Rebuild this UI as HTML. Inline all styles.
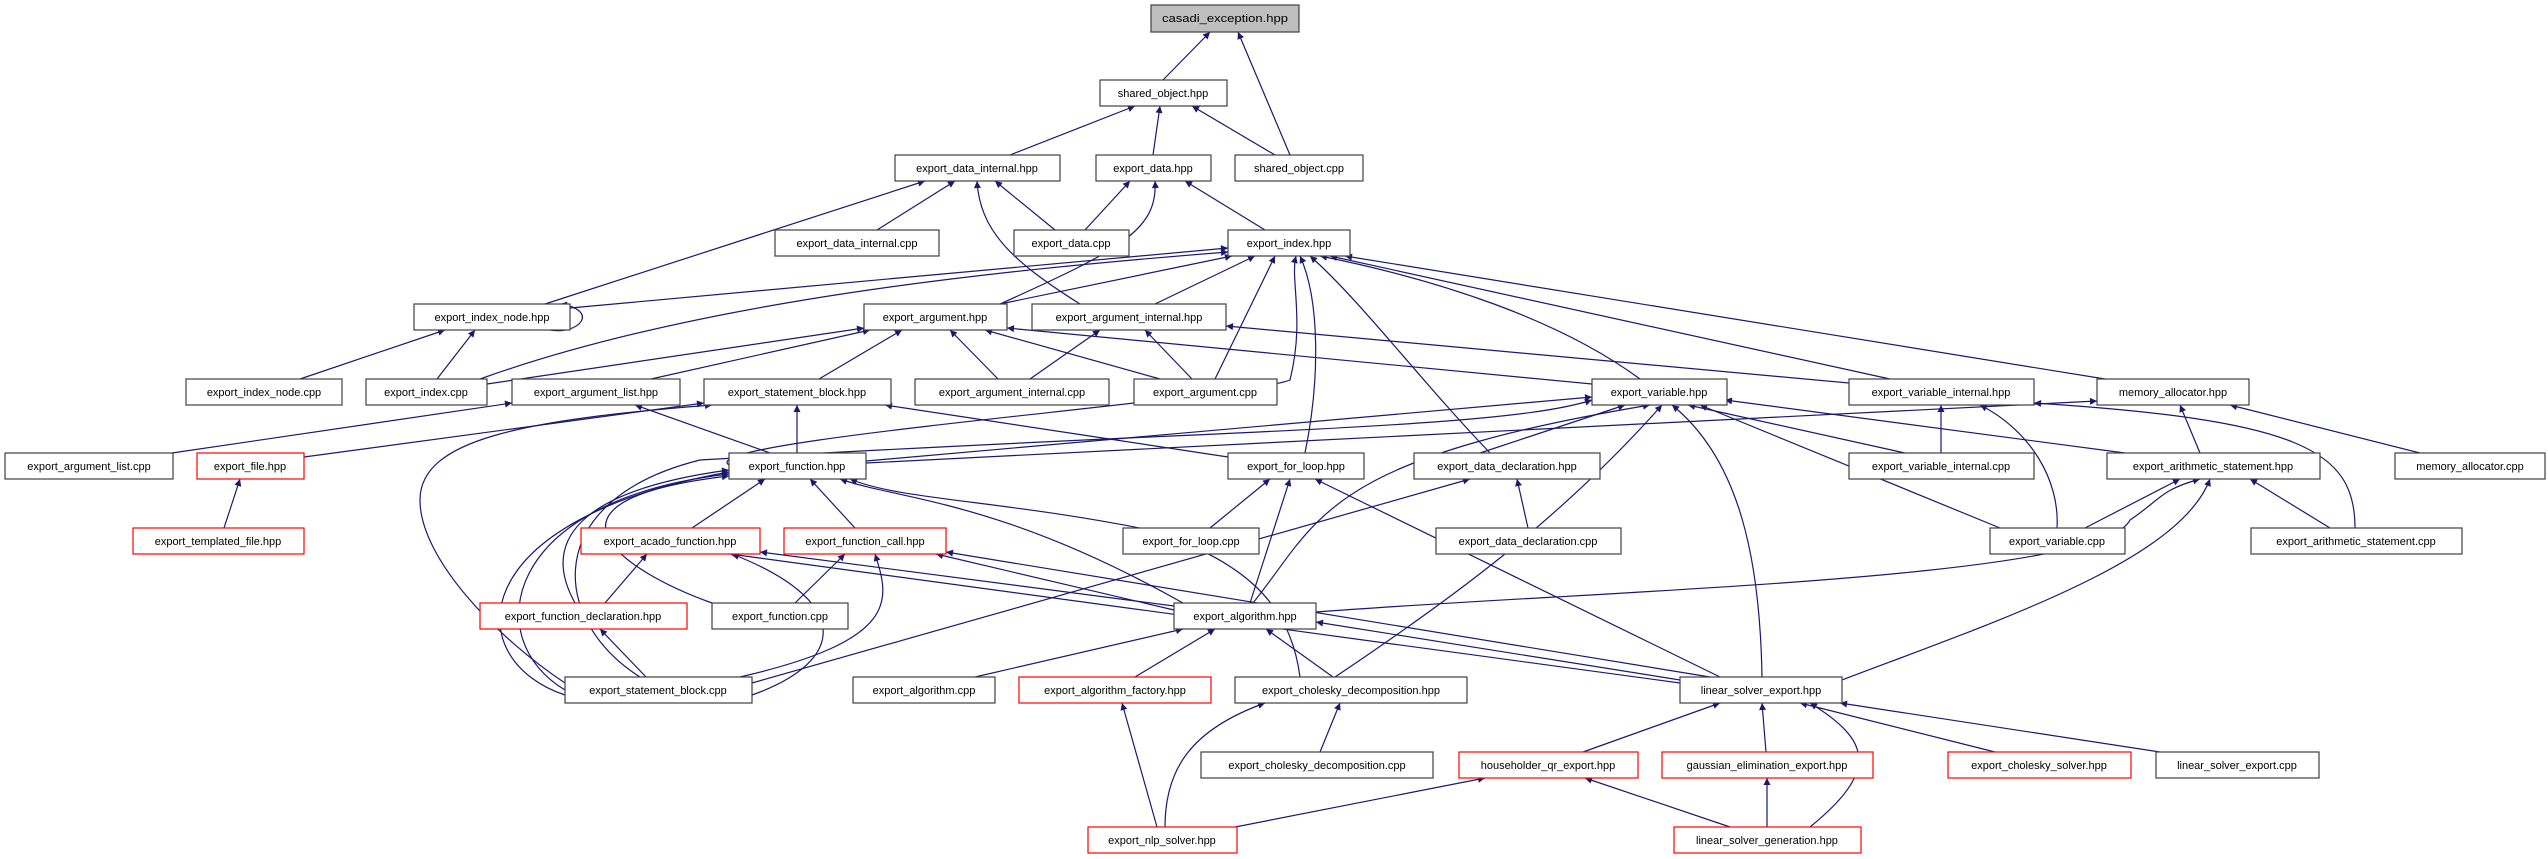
<!DOCTYPE html>
<html><head><meta charset="utf-8">
<style>
html,body{margin:0;padding:0;background:#fff;}
svg{display:block;}
text{font-family:"Liberation Sans",sans-serif;font-size:11px;fill:#000;}
.e{stroke:#191970;stroke-width:1.2;fill:none;marker-end:url(#ah);}
.n{fill:#fff;stroke:#404040;stroke-width:1.2;}
.r{fill:#fff;stroke:#ff0000;stroke-width:1.2;}
.g{fill:#bfbfbf;stroke:#404040;stroke-width:1.2;}
</style></head><body>
<svg width="2548" height="859" viewBox="0 0 2548 859" xmlns="http://www.w3.org/2000/svg">
<defs><marker id="ah" viewBox="0 0 10 10" refX="10" refY="5" markerWidth="9" markerHeight="7" markerUnits="userSpaceOnUse" orient="auto"><path d="M0,0 L10,5 L0,10 z" fill="#191970"/></marker></defs>
<g>
<!-- edges: child top -> parent bottom -->
<line class="e" x1="1163" y1="80" x2="1210" y2="32"/>
<line class="e" x1="1290" y1="155" x2="1238" y2="32"/>
<line class="e" x1="1010" y1="155" x2="1135" y2="106"/>
<line class="e" x1="1153" y1="155" x2="1160" y2="106"/>
<line class="e" x1="1275" y1="155" x2="1192" y2="106"/>
<line class="e" x1="545" y1="304" x2="925" y2="181"/>
<line class="e" x1="877" y1="230" x2="955" y2="181"/>
<line class="e" x1="1055" y1="230" x2="995" y2="181"/>
<path class="e" d="M1080,304 C1010,260 980,230 977,181"/>
<line class="e" x1="1085" y1="230" x2="1130" y2="181"/>
<line class="e" x1="1265" y1="230" x2="1185" y2="181"/>
<path class="e" d="M1000,304 C1120,250 1158,230 1155,181"/>
<line class="e" x1="570" y1="308" x2="1228" y2="248"/>
<path class="e" d="M480,379 C700,300 1000,270 1228,252"/>
<line class="e" x1="1000" y1="304" x2="1232" y2="256"/>
<line class="e" x1="1155" y1="304" x2="1255" y2="256"/>
<line class="e" x1="1215" y1="379" x2="1275" y2="256"/>
<path class="e" d="M729,465 C690,440 1240,400 1290,380 C1305,320 1290,280 1296,256"/>
<path class="e" d="M1305,453 C1320,380 1320,300 1300,256"/>
<path class="e" d="M1490,453 C1420,380 1360,300 1310,256"/>
<path class="e" d="M1640,379 C1560,320 1440,280 1320,256"/>
<line class="e" x1="1890" y1="379" x2="1330" y2="256"/>
<line class="e" x1="2105" y1="379" x2="1345" y2="256"/>
<path class="e" d="M550,330 C580,335 600,310 560,304"/>
<line class="e" x1="300" y1="379" x2="445" y2="330"/>
<line class="e" x1="437" y1="379" x2="475" y2="330"/>
<line class="e" x1="487" y1="384" x2="864" y2="328"/>
<line class="e" x1="651" y1="379" x2="870" y2="330"/>
<line class="e" x1="819" y1="379" x2="902" y2="330"/>
<line class="e" x1="998" y1="379" x2="950" y2="330"/>
<line class="e" x1="1160" y1="379" x2="985" y2="330"/>
<line class="e" x1="1592" y1="384" x2="1007" y2="328"/>
<line class="e" x1="1030" y1="379" x2="1100" y2="330"/>
<line class="e" x1="1192" y1="379" x2="1145" y2="330"/>
<line class="e" x1="1849" y1="383" x2="1226" y2="326"/>
<line class="e" x1="172" y1="453" x2="512" y2="403"/>
<line class="e" x1="770" y1="453" x2="635" y2="405"/>
<line class="e" x1="304" y1="457" x2="704" y2="403"/>
<path class="e" d="M565,683 C500,640 420,560 420,500 C420,440 520,420 712,405"/>
<line class="e" x1="797" y1="453" x2="797" y2="405"/>
<line class="e" x1="1228" y1="457" x2="885" y2="405"/>
<line class="e" x1="866" y1="461" x2="1592" y2="397"/>
<path class="e" d="M640,677 C550,620 540,500 700,460 C1200,430 1500,430 1592,400"/>
<line class="e" x1="1480" y1="453" x2="1625" y2="405"/>
<line class="e" x1="1905" y1="453" x2="1688" y2="405"/>
<line class="e" x1="2000" y1="528" x2="1700" y2="405"/>
<line class="e" x1="2125" y1="453" x2="1725" y2="400"/>
<path class="e" d="M1253,603 C1320,520 1320,460 1650,405"/>
<path class="e" d="M1335,677 C1450,600 1560,520 1662,405"/>
<path class="e" d="M1762,677 C1760,560 1740,460 1672,405"/>
<line class="e" x1="1941" y1="453" x2="1941" y2="405"/>
<path class="e" d="M2057,528 C2060,480 2030,430 1980,405"/>
<path class="e" d="M2355,528 C2355,450 2300,420 2034,403"/>
<line class="e" x1="866" y1="463" x2="2097" y2="401"/>
<line class="e" x1="2200" y1="453" x2="2180" y2="405"/>
<line class="e" x1="2420" y1="453" x2="2230" y2="405"/>
<line class="e" x1="224" y1="528" x2="240" y2="479"/>
<line class="e" x1="692" y1="528" x2="765" y2="479"/>
<line class="e" x1="855" y1="528" x2="810" y2="479"/>
<path class="e" d="M575,603 C540,540 580,490 729,470"/>
<path class="e" d="M712,603 C620,570 520,500 729,476"/>
<path class="e" d="M565,695 C460,660 460,520 729,472"/>
<path class="e" d="M565,690 C480,640 500,500 729,474"/>
<path class="e" d="M1183,603 C1000,500 900,500 840,479"/>
<path class="e" d="M1300,677 C1290,600 1240,560 1150,530 C1000,500 900,500 850,479"/>
<line class="e" x1="1210" y1="528" x2="1270" y2="479"/>
<line class="e" x1="1250" y1="603" x2="1290" y2="479"/>
<line class="e" x1="1720" y1="677" x2="1315" y2="479"/>
<line class="e" x1="1528" y1="528" x2="1517" y2="479"/>
<line class="e" x1="752" y1="683" x2="1470" y2="479"/>
<line class="e" x1="2085" y1="528" x2="2180" y2="479"/>
<line class="e" x1="2330" y1="528" x2="2250" y2="479"/>
<path class="e" d="M1316,612 C1600,590 2100,580 2130,520 C2160,500 2160,490 2200,479"/>
<path class="e" d="M1842,680 C2000,620 2180,560 2210,479"/>
<line class="e" x1="605" y1="603" x2="647" y2="554"/>
<path class="e" d="M752,695 C850,660 850,600 732,554"/>
<line class="e" x1="1680" y1="683" x2="730" y2="554"/>
<line class="e" x1="1174" y1="606" x2="760" y2="552"/>
<line class="e" x1="795" y1="603" x2="845" y2="554"/>
<path class="e" d="M740,677 C900,640 890,600 875,554"/>
<line class="e" x1="1174" y1="610" x2="936" y2="554"/>
<line class="e" x1="1710" y1="677" x2="946" y2="552"/>
<line class="e" x1="646" y1="677" x2="600" y2="629"/>
<line class="e" x1="975" y1="677" x2="1183" y2="629"/>
<line class="e" x1="1135" y1="677" x2="1215" y2="629"/>
<line class="e" x1="1333" y1="677" x2="1266" y2="629"/>
<line class="e" x1="1680" y1="680" x2="1316" y2="622"/>
<line class="e" x1="1157" y1="827" x2="1122" y2="703"/>
<line class="e" x1="1320" y1="752" x2="1340" y2="703"/>
<path class="e" d="M1165,827 C1165,770 1190,730 1265,703"/>
<line class="e" x1="1583" y1="752" x2="1720" y2="703"/>
<line class="e" x1="1766" y1="752" x2="1762" y2="703"/>
<line class="e" x1="1995" y1="752" x2="1800" y2="703"/>
<line class="e" x1="2160" y1="752" x2="1840" y2="703"/>
<path class="e" d="M1810,827 C1880,770 1870,740 1810,703"/>
<line class="e" x1="1225" y1="829" x2="1485" y2="778"/>
<line class="e" x1="1730" y1="827" x2="1585" y2="778"/>
<line class="e" x1="1767" y1="827" x2="1767" y2="778"/>
</g>
<g>
<rect class="g" x="1151" y="5" width="148" height="27"/><text x="1225" y="22" text-anchor="middle" textLength="126" lengthAdjust="spacingAndGlyphs">casadi_exception.hpp</text>
<rect class="n" x="1100" y="80" width="127" height="26"/><text x="1163" y="97" text-anchor="middle">shared_object.hpp</text>
<rect class="n" x="895" y="155" width="165" height="26"/><text x="977" y="172" text-anchor="middle">export_data_internal.hpp</text>
<rect class="n" x="1096" y="155" width="115" height="26"/><text x="1153" y="172" text-anchor="middle">export_data.hpp</text>
<rect class="n" x="1235" y="155" width="128" height="26"/><text x="1299" y="172" text-anchor="middle">shared_object.cpp</text>
<rect class="n" x="775" y="230" width="164" height="26"/><text x="857" y="247" text-anchor="middle">export_data_internal.cpp</text>
<rect class="n" x="1014" y="230" width="115" height="26"/><text x="1071" y="247" text-anchor="middle">export_data.cpp</text>
<rect class="n" x="1228" y="230" width="122" height="26"/><text x="1289" y="247" text-anchor="middle">export_index.hpp</text>
<rect class="n" x="414" y="304" width="156" height="26"/><text x="492" y="321" text-anchor="middle">export_index_node.hpp</text>
<rect class="n" x="864" y="304" width="143" height="26"/><text x="935" y="321" text-anchor="middle">export_argument.hpp</text>
<rect class="n" x="1032" y="304" width="194" height="26"/><text x="1129" y="321" text-anchor="middle">export_argument_internal.hpp</text>
<rect class="n" x="186" y="379" width="156" height="26"/><text x="264" y="396" text-anchor="middle">export_index_node.cpp</text>
<rect class="n" x="366" y="379" width="121" height="26"/><text x="426" y="396" text-anchor="middle">export_index.cpp</text>
<rect class="n" x="512" y="379" width="168" height="26"/><text x="596" y="396" text-anchor="middle">export_argument_list.hpp</text>
<rect class="n" x="704" y="379" width="187" height="26"/><text x="797" y="396" text-anchor="middle">export_statement_block.hpp</text>
<rect class="n" x="915" y="379" width="194" height="26"/><text x="1012" y="396" text-anchor="middle">export_argument_internal.cpp</text>
<rect class="n" x="1134" y="379" width="143" height="26"/><text x="1205" y="396" text-anchor="middle">export_argument.cpp</text>
<rect class="n" x="1592" y="379" width="135" height="26"/><text x="1659" y="396" text-anchor="middle">export_variable.hpp</text>
<rect class="n" x="1849" y="379" width="185" height="26"/><text x="1941" y="396" text-anchor="middle">export_variable_internal.hpp</text>
<rect class="n" x="2097" y="379" width="152" height="26"/><text x="2173" y="396" text-anchor="middle">memory_allocator.hpp</text>
<rect class="n" x="5" y="453" width="168" height="26"/><text x="89" y="470" text-anchor="middle">export_argument_list.cpp</text>
<rect class="r" x="197" y="453" width="107" height="26"/><text x="250" y="470" text-anchor="middle">export_file.hpp</text>
<rect class="n" x="729" y="453" width="137" height="26"/><text x="797" y="470" text-anchor="middle">export_function.hpp</text>
<rect class="n" x="1228" y="453" width="136" height="26"/><text x="1296" y="470" text-anchor="middle">export_for_loop.hpp</text>
<rect class="n" x="1414" y="453" width="186" height="26"/><text x="1507" y="470" text-anchor="middle">export_data_declaration.hpp</text>
<rect class="n" x="1849" y="453" width="185" height="26"/><text x="1941" y="470" text-anchor="middle">export_variable_internal.cpp</text>
<rect class="n" x="2107" y="453" width="213" height="26"/><text x="2213" y="470" text-anchor="middle">export_arithmetic_statement.hpp</text>
<rect class="n" x="2395" y="453" width="150" height="26"/><text x="2470" y="470" text-anchor="middle">memory_allocator.cpp</text>
<rect class="r" x="133" y="528" width="171" height="26"/><text x="218" y="545" text-anchor="middle">export_templated_file.hpp</text>
<rect class="r" x="581" y="528" width="179" height="26"/><text x="670" y="545" text-anchor="middle">export_acado_function.hpp</text>
<rect class="r" x="784" y="528" width="162" height="26"/><text x="865" y="545" text-anchor="middle">export_function_call.hpp</text>
<rect class="n" x="1123" y="528" width="136" height="26"/><text x="1191" y="545" text-anchor="middle">export_for_loop.cpp</text>
<rect class="n" x="1436" y="528" width="185" height="26"/><text x="1528" y="545" text-anchor="middle">export_data_declaration.cpp</text>
<rect class="n" x="1990" y="528" width="135" height="26"/><text x="2057" y="545" text-anchor="middle">export_variable.cpp</text>
<rect class="n" x="2251" y="528" width="211" height="26"/><text x="2356" y="545" text-anchor="middle">export_arithmetic_statement.cpp</text>
<rect class="r" x="480" y="603" width="207" height="26"/><text x="583" y="620" text-anchor="middle">export_function_declaration.hpp</text>
<rect class="n" x="712" y="603" width="136" height="26"/><text x="780" y="620" text-anchor="middle">export_function.cpp</text>
<rect class="n" x="1174" y="603" width="142" height="26"/><text x="1245" y="620" text-anchor="middle">export_algorithm.hpp</text>
<rect class="n" x="565" y="677" width="187" height="26"/><text x="658" y="694" text-anchor="middle">export_statement_block.cpp</text>
<rect class="n" x="853" y="677" width="142" height="26"/><text x="924" y="694" text-anchor="middle">export_algorithm.cpp</text>
<rect class="r" x="1019" y="677" width="192" height="26"/><text x="1115" y="694" text-anchor="middle">export_algorithm_factory.hpp</text>
<rect class="n" x="1235" y="677" width="232" height="26"/><text x="1351" y="694" text-anchor="middle">export_cholesky_decomposition.hpp</text>
<rect class="n" x="1680" y="677" width="162" height="26"/><text x="1761" y="694" text-anchor="middle">linear_solver_export.hpp</text>
<rect class="n" x="1201" y="752" width="232" height="26"/><text x="1317" y="769" text-anchor="middle">export_cholesky_decomposition.cpp</text>
<rect class="r" x="1459" y="752" width="179" height="26"/><text x="1548" y="769" text-anchor="middle">householder_qr_export.hpp</text>
<rect class="r" x="1662" y="752" width="211" height="26"/><text x="1767" y="769" text-anchor="middle">gaussian_elimination_export.hpp</text>
<rect class="r" x="1948" y="752" width="183" height="26"/><text x="2039" y="769" text-anchor="middle">export_cholesky_solver.hpp</text>
<rect class="n" x="2156" y="752" width="163" height="26"/><text x="2237" y="769" text-anchor="middle">linear_solver_export.cpp</text>
<rect class="r" x="1088" y="827" width="149" height="26"/><text x="1162" y="844" text-anchor="middle">export_nlp_solver.hpp</text>
<rect class="r" x="1674" y="827" width="187" height="26"/><text x="1767" y="844" text-anchor="middle">linear_solver_generation.hpp</text>
</g>
</svg>
</body></html>
